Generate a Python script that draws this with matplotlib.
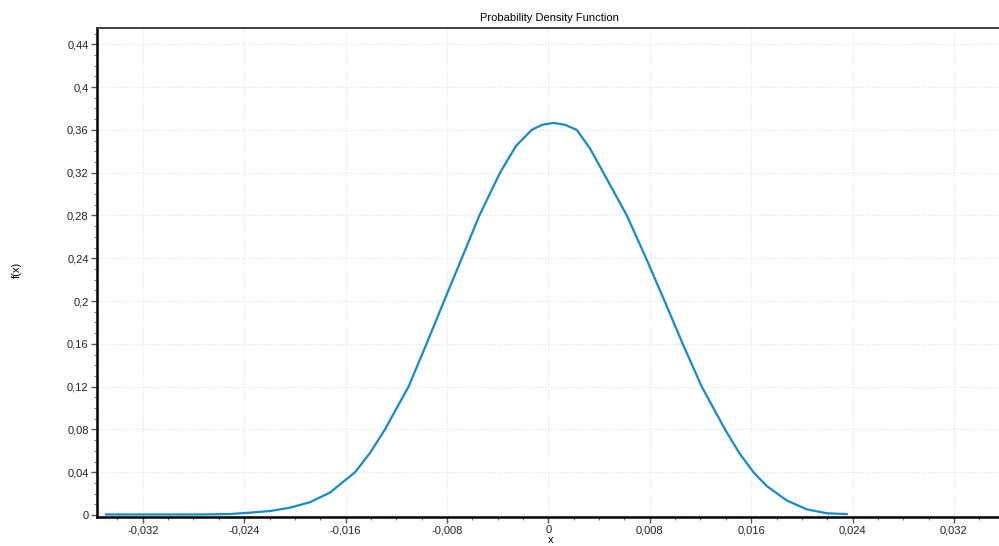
import matplotlib
matplotlib.use("Agg")
import matplotlib.pyplot as plt
from matplotlib.ticker import MultipleLocator, FuncFormatter

# values
x = [-0.03490, -0.02747, -0.02513, -0.02355, -0.02197, -0.02040, -0.01882,
     -0.01724, -0.01525, -0.01407, -0.01289, -0.01103, -0.00961, -0.00823,
     -0.00683, -0.00544, -0.00381, -0.00255, -0.00131, -0.00050, 0.00041,
     0.00132, 0.00224, 0.00329, 0.00434, 0.00619, 0.00771, 0.00917, 0.01060,
     0.01210, 0.01394, 0.01506, 0.01618, 0.01723, 0.01881, 0.02039, 0.02197,
     0.02354]
fx = [0.0005, 0.0005, 0.0009, 0.0022, 0.0037, 0.0068, 0.0119,
      0.0209, 0.0400, 0.0580, 0.0800, 0.1200, 0.1600, 0.2000,
      0.2400, 0.2800, 0.3200, 0.3450, 0.3600, 0.3647, 0.3665,
      0.3647, 0.3600, 0.3425, 0.3200, 0.2800, 0.2400, 0.2000, 0.1600,
      0.1200, 0.0800, 0.0580, 0.0400, 0.0271, 0.0136, 0.0053, 0.0016,
      0.0009]

plt.rcParams["font.family"] = ["Liberation Sans", "DejaVu Sans"]
plt.rcParams["font.size"] = 8

fig = plt.figure(figsize=(9.99, 5.46), dpi=100)
ax = fig.add_axes([0.0971, 0.0531, 0.905, 0.8956])
ax.plot(x, fx, color="#158bcb", lw=1.6, solid_joinstyle="round")

ax.set_xlim(-0.03561, 0.03572)
ax.set_ylim(-0.00187, 0.4552)
ax.xaxis.set_major_locator(MultipleLocator(0.008))
ax.xaxis.set_minor_locator(MultipleLocator(0.002))
ax.yaxis.set_major_locator(MultipleLocator(0.04))
ax.yaxis.set_minor_locator(MultipleLocator(0.01))


def comma(v, pos):
    s = f"{v:.3f}".rstrip("0").rstrip(".")
    if s in ("-0", ""):
        s = "0"
    return s.replace(".", ",")


ax.xaxis.set_major_formatter(FuncFormatter(comma))
ax.yaxis.set_major_formatter(FuncFormatter(comma))

ax.grid(True, which="major", color="#e2e2e2", ls=":", lw=0.8)
ax.tick_params(which="major", length=4, width=1, color="#555555", pad=2, labelcolor="#222222")
ax.tick_params(which="minor", length=2.5, width=0.8, color="#777777")

for side in ("left", "bottom"):
    ax.spines[side].set_linewidth(1.8)
    ax.spines[side].set_color("black")
ax.spines["top"].set_linewidth(1.3)
ax.spines["top"].set_color("#333333")
ax.spines["right"].set_visible(False)

ax.set_title("Probability Density Function", fontsize=8, pad=5)
fig.text(0.017, 0.505, "f(x)", rotation=90, ha="center", va="center", fontsize=8)
fig.text(0.551, 0.002, "x", ha="center", va="bottom", fontsize=8)

fig.savefig("out.png", dpi=100)
